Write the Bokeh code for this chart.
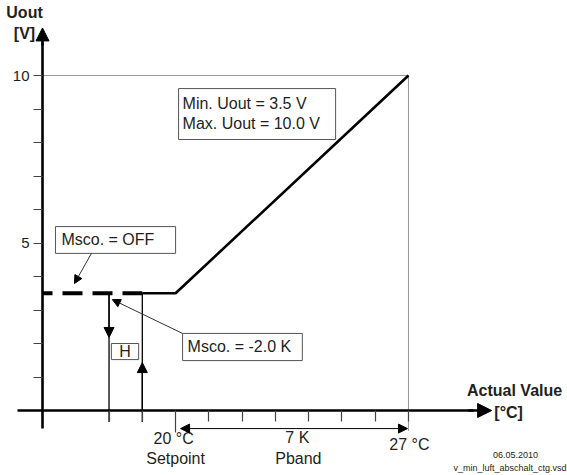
from bokeh.plotting import figure
from bokeh.models import (LinearAxis, FixedTicker, Range1d, Arrow, NormalHead,
                          ColumnDataSource)
from bokeh.core.properties import value
from bokeh.embed import file_html
from bokeh.resources import INLINE

# ---------------- data ----------------
x_origin = 16.0          # where the Uout axis crosses
setpoint = 20.0
pband_end = 27.0
min_uout = 3.5
max_uout = 10.0
hyst_on = 18.0           # switch-off point (setpoint + msco)
hyst_off = 19.0

curve_x = [19.0, 20.0, 27.0]
curve_y = [3.5, 3.5, 10.0]
off_x = [16.0, 19.0]
off_y = [3.5, 3.5]

y_ticks = [1, 2, 3, 4, 5, 6, 7, 8, 9, 10]
y_tick_labels = {5: "5", 10: "10"}
x_ticks_short = [18, 19, 21, 22, 23, 24, 25, 26, 27]
x_ticks_long = [20]

box_texts = ["Msco. = OFF", "Msco. = -2.0 K", "H"]
info_lines = ["Min. Uout = 3.5 V", "Max. Uout = 10.0 V"]
bottom_labels = ["20 °C", "Setpoint", "7 K", "Pband", "27 °C"]
axis_titles = ["Uout", "[V]", "Actual Value", "[°C]"]
footer = ["06.05.2010", "v_min_luft_abschalt_ctg.vsd"]

# ---------------- figure ----------------
FONT = "Liberation Sans"
TXT = "#231f20"
W, H = 567, 475
px_per_x = 33.27
px_per_y = 33.5
x0 = x_origin - 42 / px_per_x
y1 = 410 / px_per_y

p = figure(width=W, height=H, output_backend="svg", toolbar_location=None,
           x_axis_type=None, y_axis_type=None,
           x_range=Range1d(x0, x0 + W / px_per_x),
           y_range=Range1d(y1 - H / px_per_y, y1),
           min_border=0, outline_line_color=None)
p.background_fill_color = "white"
p.border_fill_color = "white"

# axes crossing at (16, 0)
yax = LinearAxis(fixed_location=x_origin, bounds=(-0.54, 11.0),
                 ticker=FixedTicker(ticks=y_ticks),
                 major_label_overrides={t: y_tick_labels.get(t, "") for t in y_ticks},
                 axis_line_width=2.6, axis_line_color="black",
                 major_tick_out=9, major_tick_in=0,
                 major_tick_line_color="#444444", major_tick_line_width=1.2,
                 minor_tick_line_color=None,
                 major_label_standoff=4,
                 major_label_text_font=FONT, major_label_text_font_size="15px",
                 major_label_text_color=TXT)
p.add_layout(yax, "left")

xax = LinearAxis(fixed_location=0, bounds=(15.25, 28.95),
                 ticker=FixedTicker(ticks=x_ticks_short),
                 major_label_overrides={t: "" for t in x_ticks_short},
                 axis_line_width=2.6, axis_line_color="black",
                 major_tick_out=11, major_tick_in=0,
                 major_tick_line_color="#444444", major_tick_line_width=1.2,
                 minor_tick_line_color=None)
p.add_layout(xax, "below")

xax2 = LinearAxis(fixed_location=0, bounds=(15.25, 28.95),
                  ticker=FixedTicker(ticks=x_ticks_long),
                  major_label_overrides={t: "" for t in x_ticks_long},
                  axis_line_color=None,
                  major_tick_out=22, major_tick_in=0,
                  major_tick_line_color="#444444", major_tick_line_width=1.2,
                  minor_tick_line_color=None)
p.add_layout(xax2, "below")

# axis arrow heads
p.add_layout(Arrow(end=NormalHead(size=13, fill_color="black", line_color="black"),
                   x_start=x_origin, y_start=10.9, x_end=x_origin, y_end=11.42,
                   line_color="black", line_width=2.6))
p.add_layout(Arrow(end=NormalHead(size=14, fill_color="black", line_color="black"),
                   x_start=28.8, y_start=0, x_end=29.5, y_end=0,
                   line_color="black", line_width=2.6))

# dotted guide lines at max output / end of pband
p.line([x_origin, pband_end], [max_uout, max_uout], line_color="#333333",
       line_width=1, line_dash="1 1")
p.line([pband_end, pband_end], [max_uout, -0.6], line_color="#333333",
       line_width=1, line_dash="1 1")

# hysteresis vertical lines
for hx in (hyst_on, hyst_off):
    p.line([hx, hx], [min_uout, -0.34], line_color="black", line_width=1.3)
p.add_layout(Arrow(end=NormalHead(size=10, fill_color="black", line_color="black"),
                   x_start=hyst_on, y_start=min_uout, x_end=hyst_on, y_end=2.18,
                   line_color="black", line_width=1.3))
p.add_layout(Arrow(end=NormalHead(size=10, fill_color="black", line_color="black"),
                   x_start=hyst_off, y_start=0, x_end=hyst_off, y_end=1.43,
                   line_color="black", line_width=1.3))

# characteristic curve
p.line(curve_x, curve_y, line_color="black", line_width=2.6)
p.line(off_x, off_y, line_color="black", line_width=4, line_dash="20 10",
       line_dash_offset=10)

# text boxes
p.quad(left=[20.09, 16.39, 20.21, 18.07], right=[24.81, 20.0, 23.81, 18.89],
       top=[9.61, 5.49, 2.30, 2.00], bottom=[8.09, 4.69, 1.49, 1.52],
       fill_color="white", line_color="#555555", line_width=1)

# annotation arrows
p.add_layout(Arrow(end=NormalHead(size=8, fill_color="black", line_color="black"),
                   x_start=17.47, y_start=4.69, x_end=16.96, y_end=3.79,
                   line_color="#333333", line_width=1))
p.add_layout(Arrow(end=NormalHead(size=8, fill_color="black", line_color="black"),
                   x_start=20.21, y_start=2.30, x_end=18.10, y_end=3.31,
                   line_color="#333333", line_width=1))
# Pband double arrow
p.add_layout(Arrow(start=NormalHead(size=9, fill_color="black", line_color="black"),
                   end=NormalHead(size=9, fill_color="black", line_color="black"),
                   x_start=20.15, y_start=-0.54, x_end=26.97, y_end=-0.54,
                   line_color="black", line_width=1))

# ---------------- texts ----------------
def texts(x, y, t, size="16px", align="left", style="normal"):
    src = ColumnDataSource(dict(x=x, y=y, t=t))
    p.text(x="x", y="y", text="t", source=src, text_font=value(FONT),
           text_font_size=size, text_align=align, text_baseline="middle",
           text_color=TXT, text_font_style=style)

texts([20.21, 20.21], [9.15, 8.57], info_lines)
texts([16.57, 20.36], [5.09, 1.90], box_texts[:2])
texts([18.48], [1.76], box_texts[2:], align="center")
texts([19.94, 20.0, 23.66, 23.69, 27.03], [-0.84, -1.43, -0.82, -1.42, -1.01],
      bottom_labels, align="center")
texts([15.46, 15.46, 30.19, 30.01], [11.88, 11.25, 0.60, -0.06], axis_titles,
      align="center", style="bold")
texts([30.22], [-1.34], footer[:1], size="9px", align="center")
texts([28.35], [-1.73], footer[1:], size="9px", align="left")

open("out.html", "w").write(file_html(p, INLINE))
